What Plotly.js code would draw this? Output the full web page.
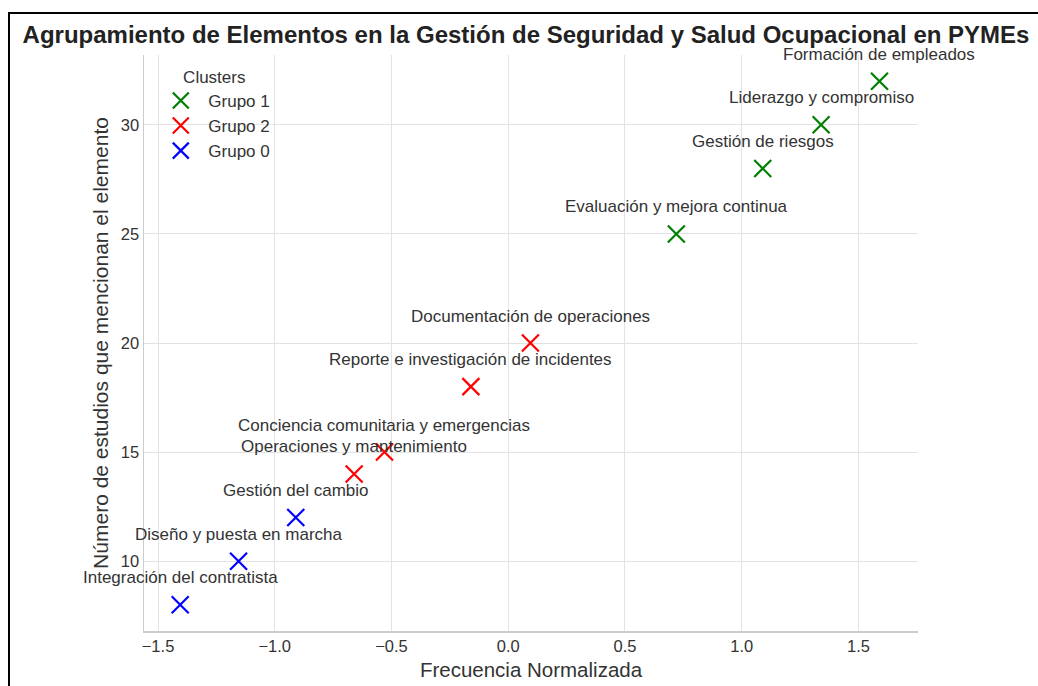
<!DOCTYPE html>
<html>
<head>
<meta charset="utf-8">
<script src="https://cdn.plot.ly/plotly-3.0.1.min.js"></script>
<style>
  html, body { margin: 0; padding: 0; overflow: hidden; background: #fff; }
  #chart { width: 1038px; height: 686px; }
  #frame { position: absolute; left: 8px; top: 12px; width: 1100px; height: 800px;
           border: 2px solid #000; pointer-events: none; }
</style>
</head>
<body>
<div id="chart"></div>
<div id="frame"></div>
<script>
// Data
const groupNames = ["Grupo 1", "Grupo 2", "Grupo 0"];
const groupColors = ["green", "red", "blue"];

const g1Labels = ["Formación de empleados", "Liderazgo y compromiso", "Gestión de riesgos", "Evaluación y mejora continua"];
const g1X = [1.59, 1.34, 1.09, 0.72];
const g1Y = [32, 30, 28, 25];

const g2Labels = ["Documentación de operaciones", "Reporte e investigación de incidentes", "Conciencia comunitaria y emergencias", "Operaciones y mantenimiento"];
const g2X = [0.095, -0.16, -0.53, -0.66];
const g2Y = [20, 18, 15, 14];

const g0Labels = ["Gestión del cambio", "Diseño y puesta en marcha", "Integración del contratista"];
const g0X = [-0.91, -1.155, -1.405];
const g0Y = [12, 10, 8];

const xTicks = [-1.5, -1.0, -0.5, 0.0, 0.5, 1.0, 1.5];
const xTickText = ["\u22121.5", "\u22121.0", "\u22120.5", "0.0", "0.5", "1.0", "1.5"];
const yTicks = [10, 15, 20, 25, 30];

const groups = [
  {x: g1X, y: g1Y, labels: g1Labels},
  {x: g2X, y: g2Y, labels: g2Labels},
  {x: g0X, y: g0Y, labels: g0Labels}
];

const FONT = "Liberation Sans, Arial, sans-serif";
const traces = groups.map((g, i) => ({
  type: "scatter",
  mode: "markers",
  name: groupNames[i],
  x: g.x,
  y: g.y,
  marker: {
    symbol: "x-thin-open",
    size: 17,
    color: groupColors[i],
    line: {color: groupColors[i], width: 2.2}
  },
  hoverinfo: "x+y"
}));

const annotations = [];
groups.forEach(g => {
  g.labels.forEach((t, j) => {
    annotations.push({
      x: g.x[j], y: g.y[j], xref: "x", yref: "y",
      text: t, showarrow: false, yshift: 27,
      xanchor: "center", yanchor: "middle",
      font: {family: FONT, size: 17, color: "#333333"}
    });
  });
});

const layout = {
  width: 1038, height: 686,
  paper_bgcolor: "#fff", plot_bgcolor: "#fff",
  margin: {l: 144, r: 120, t: 55, b: 55},
  font: {family: FONT, color: "#333333"},
  title: {
    text: "<b>Agrupamiento de Elementos en la Gestión de Seguridad y Salud Ocupacional en PYMEs</b>",
    font: {family: FONT, size: 24, color: "#222222"},
    x: 526/1038, xref: "container", xanchor: "center",
    y: 1 - 35/686, yref: "container", yanchor: "middle"
  },
  xaxis: {
    range: [-1.56, 1.755],
    tickvals: xTicks, ticktext: xTickText,
    showgrid: true, gridcolor: "#e3e3e3", gridwidth: 1,
    zeroline: false,
    showline: true, linecolor: "#cccccc", linewidth: 1.5,
    ticks: "", tickfont: {family: FONT, size: 16.5, color: "#333333"},
    title: {text: "Frecuencia Normalizada", font: {family: FONT, size: 20.5, color: "#333333"}, standoff: 8}
  },
  yaxis: {
    range: [6.8, 33.2],
    tickvals: yTicks,
    showgrid: true, gridcolor: "#e3e3e3", gridwidth: 1,
    zeroline: false,
    showline: true, linecolor: "#cccccc", linewidth: 1.5,
    ticks: "", tickfont: {family: FONT, size: 16.5, color: "#333333"},
    title: {text: "Número de estudios que mencionan el elemento", font: {family: FONT, size: 21, color: "#333333"}, standoff: 6}
  },
  legend: {
    x: 0.012, y: 0.99, xanchor: "left", yanchor: "top",
    bgcolor: "rgba(255,255,255,0)",
    font: {family: FONT, size: 17, color: "#333333"},
    title: {text: "Clusters", side: "top center", font: {family: FONT, size: 17, color: "#333333"}},
    tracegroupgap: 0,
    itemwidth: 45
  },
  annotations: annotations,
  showlegend: true
};

Plotly.newPlot("chart", traces, layout, {displayModeBar: false, staticPlot: true});
</script>
</body>
</html>
